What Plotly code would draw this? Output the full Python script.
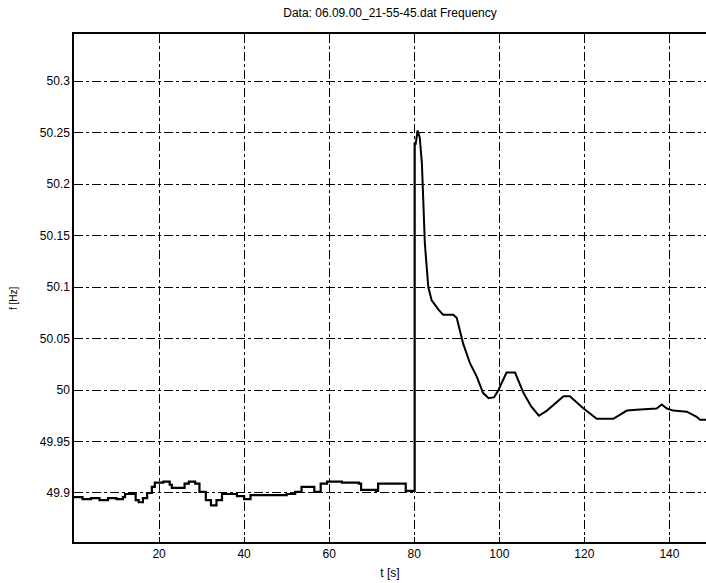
import plotly.graph_objects as go

# Frequency record: time [s] and frequency [Hz]
t_s = [0, 2, 4, 6, 8, 10, 11.5, 12, 13.5, 14.5, 15.2, 16.2, 17.2, 18.3, 19, 21,
       22.5, 23, 25.3, 26, 27, 28.5, 29.5, 31, 32.2, 33.5, 34.8, 37, 38.3, 40,
       41.5, 46, 50, 52, 53.5, 55.5, 56.5, 58, 59.5, 63, 67, 67.5, 71, 71.5,
       77.5, 78, 79.8, 80.1, 80.3, 80.8, 81.3, 81.8, 82.2, 82.5, 83.3, 84.1,
       85.7, 86.8, 89.2, 90.0, 91.5, 93.1, 94.7, 96.2, 97.5, 98.8, 99.8, 101.7,
       103.7, 105.7, 107.5, 109.3, 111.2, 113.5, 115.1, 116.6, 118.2, 119.8,
       121.7, 122.9, 126.8, 127.6, 130, 133.1, 137, 138.2, 139.4, 140.9, 144.1,
       146.4, 147.2, 148.6]
freq_hz = [49.896, 49.894, 49.895, 49.893, 49.895, 49.894, 49.896, 49.899,
           49.899, 49.893, 49.891, 49.895, 49.900, 49.906, 49.910, 49.911,
           49.908, 49.905, 49.905, 49.909, 49.911, 49.909, 49.901, 49.893,
           49.888, 49.893, 49.899, 49.899, 49.897, 49.894, 49.898, 49.898,
           49.899, 49.901, 49.906, 49.906, 49.901, 49.909, 49.911, 49.910,
           49.909, 49.903, 49.902, 49.909, 49.909, 49.902, 49.902, 50.240,
           50.238, 50.252, 50.245, 50.220, 50.172, 50.142, 50.100, 50.087,
           50.078, 50.073, 50.073, 50.070, 50.045, 50.026, 50.013, 49.997,
           49.992, 49.993, 50.000, 50.017, 50.017, 49.997, 49.984, 49.975,
           49.980, 49.988, 49.994, 49.994, 49.988, 49.982, 49.976, 49.972,
           49.972, 49.974, 49.980, 49.981, 49.982, 49.986, 49.982, 49.980,
           49.979, 49.974, 49.971, 49.971]

# time at which the frequency jump occurs
t_event = 80.1

x_ticks = [20, 40, 60, 80, 100, 120, 140]
y_ticks = [49.9, 49.95, 50.0, 50.05, 50.1, 50.15, 50.2, 50.25, 50.3]
y_labels = ["49.9", "49.95", "50", "50.05", "50.1", "50.15", "50.2", "50.25", "50.3"]

FONT = "Liberation Sans, Arial, sans-serif"

pre = [i for i, t in enumerate(t_s) if t <= t_event]
post = [i for i, t in enumerate(t_s) if t >= t_event]

fig = go.Figure()
# quantised steady-state section (step-like record)
fig.add_trace(go.Scatter(
    x=[t_s[i] for i in pre], y=[freq_hz[i] for i in pre], mode="lines",
    line=dict(color="black", width=2.2, shape="hv"),
    showlegend=False,
))
# transient after the event
fig.add_trace(go.Scatter(
    x=[t_s[i] for i in post], y=[freq_hz[i] for i in post], mode="lines",
    line=dict(color="black", width=2),
    showlegend=False,
))

fig.update_layout(
    width=706, height=583,
    margin=dict(l=74, r=0, t=34, b=41),
    paper_bgcolor="white", plot_bgcolor="white",
    font=dict(family=FONT, size=12, color="black"),
    title=dict(text="Data: 06.09.00_21-55-45.dat Frequency",
               x=390 / 706, xanchor="center", y=1 - 13 / 583, yanchor="middle",
               font=dict(family=FONT, size=12, color="black")),
    xaxis=dict(
        range=[0, 148.6], tickvals=x_ticks, ticktext=[str(v) for v in x_ticks],
        showgrid=True, gridcolor="black", griddash="dashdot", gridwidth=1,
        showline=True, linecolor="black", linewidth=1.5, mirror=True,
        ticks="inside", ticklen=5, tickcolor="black", zeroline=False,
        title=dict(text="t [s]", standoff=8, font=dict(size=12)),
    ),
    yaxis=dict(
        range=[49.8524, 50.3457], tickvals=y_ticks, ticktext=y_labels,
        showgrid=True, gridcolor="black", griddash="dashdot", gridwidth=1,
        showline=True, linecolor="black", linewidth=1.5, mirror=False,
        ticks="inside", ticklen=5, tickcolor="black", zeroline=False,
    ),
)

fig.add_annotation(
    text="f [Hz]", textangle=-90, xref="paper", yref="paper",
    x=-61 / 632, y=(542 - 298) / 508, xanchor="center", yanchor="middle",
    showarrow=False, font=dict(family=FONT, size=10, color="black"),
)

fig.write_html("out.html")
